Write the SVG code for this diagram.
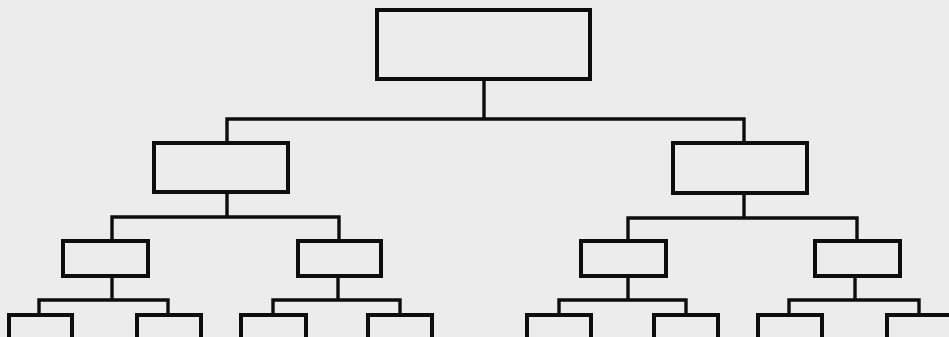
<svg xmlns="http://www.w3.org/2000/svg" width="949" height="337" viewBox="0 0 949 337">
<style>
.b{fill:none;stroke:#0d0d0d;stroke-width:4}
.c{fill:none;stroke:#0d0d0d;stroke-width:3.4;stroke-linecap:square}
</style>
<rect width="949" height="337" fill="#ececec"/>
<g id="connectors">
<path class="c" d="M484,80V119M227,119H744M227,119V143M744,119V143"/>
<path class="c" d="M227,192V217M112,217H339M112,217V241M339,217V241"/>
<path class="c" d="M744,193V218M628,218H857M628,218V241M857,218V241"/>
<path class="c" d="M112,276V300M39,300H168M39,300V315M168,300V315"/>
<path class="c" d="M338,276V300M273,300H400M273,300V315M400,300V315"/>
<path class="c" d="M628,276V300M559,300H686M559,300V315M686,300V315"/>
<path class="c" d="M855,276V300M789,300H919M789,300V315M919,300V315"/>
</g>
<g id="root"><rect class="b" x="377" y="10" width="213" height="69"/></g>
<g id="l2a"><rect class="b" x="154" y="143" width="134" height="49"/></g>
<g id="l2b"><rect class="b" x="673" y="143" width="134" height="50"/></g>
<g id="l3a"><rect class="b" x="63" y="241" width="85" height="35"/></g>
<g id="l3b"><rect class="b" x="298" y="241" width="83" height="35"/></g>
<g id="l3c"><rect class="b" x="581" y="241" width="85" height="35"/></g>
<g id="l3d"><rect class="b" x="815" y="241" width="85" height="35"/></g>
<g id="l4a"><rect class="b" x="9" y="315" width="63" height="40"/></g>
<g id="l4b"><rect class="b" x="137" y="315" width="64" height="40"/></g>
<g id="l4c"><rect class="b" x="241" y="315" width="65" height="40"/></g>
<g id="l4d"><rect class="b" x="368" y="315" width="64" height="40"/></g>
<g id="l4e"><rect class="b" x="527" y="315" width="64" height="40"/></g>
<g id="l4f"><rect class="b" x="654" y="315" width="64" height="40"/></g>
<g id="l4g"><rect class="b" x="758" y="315" width="64" height="40"/></g>
<g id="l4h"><rect class="b" x="887" y="315" width="80" height="40"/></g>
</svg>
